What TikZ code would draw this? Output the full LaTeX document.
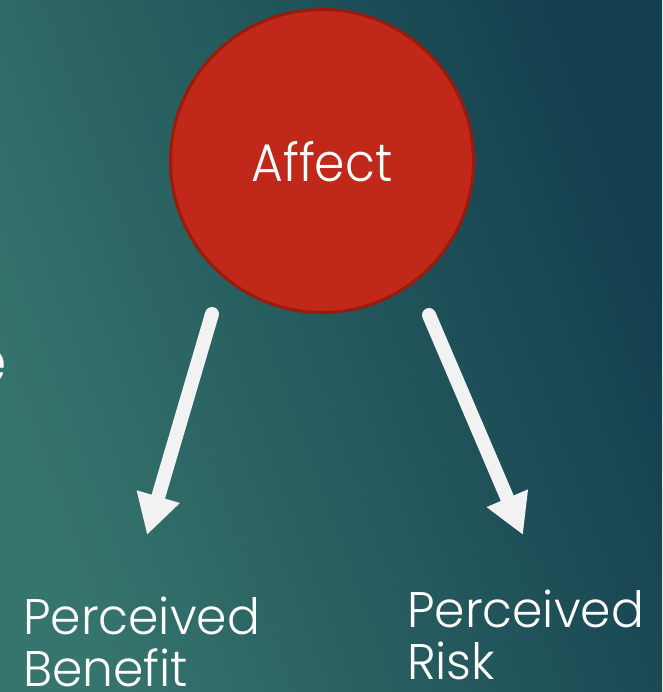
\documentclass[tikz,border=0pt]{standalone}
\usepackage{fontspec}
\setmainfont{Poppins}[UprightFont=* Light, FakeStretch=0.92]
\newfontfamily\captionfont{Poppins}[UprightFont=* Light, FakeStretch=0.975]
\usetikzlibrary{arrows.meta}
\definecolor{bglight}{HTML}{36756D}
\definecolor{bgdark}{HTML}{133E4E}
\definecolor{affred}{HTML}{C0281A}
\definecolor{affborder}{HTML}{9A1A0C}
\definecolor{arrowwhite}{HTML}{F2F2F2}
\tikzset{
  bubble/.style={circle, fill=affred, draw=affborder, line width=3pt, minimum size=303pt, inner sep=0pt},
  bubbletext/.style={anchor=base, inner sep=0pt, text=white, font=\fontsize{53}{60}\selectfont},
  caption/.style={anchor=base west, inner sep=0pt, text=white, align=left, font=\captionfont\fontsize{50}{52}\selectfont},
  bigarrow/.style={draw=arrowwhite, line width=14pt, line cap=round, -{Triangle[width=42pt,length=40pt]}, arrowwhite}
}
\begin{document}
\begin{tikzpicture}[x=1pt,y=-1pt]
\useasboundingbox (0,0) rectangle (662,692);
\shade[left color=bglight, right color=bgdark, shading angle=110] (0,0) rectangle (662,692);
\node[anchor=base east, inner sep=0pt, text=white, font=\fontsize{62}{70}\selectfont] (edge) at (7,383) {e};
\node[bubble] (affect) at (322,161) {};
\node[bubbletext] (affectlabel) at (322,182) {Affect};
\coordinate (s1) at (212,314);
\coordinate (t1) at (147,535);
\coordinate (s2) at (429,315);
\coordinate (t2) at (523,535);
\draw[bigarrow] (s1) -- (t1);
\draw[bigarrow] (s2) -- (t2);
\node[caption] (benefit) at (23,686) {Perceived\\Benefit};
\node[caption] (risk) at (407,679) {Perceived\\Risk};
\end{tikzpicture}
\end{document}
